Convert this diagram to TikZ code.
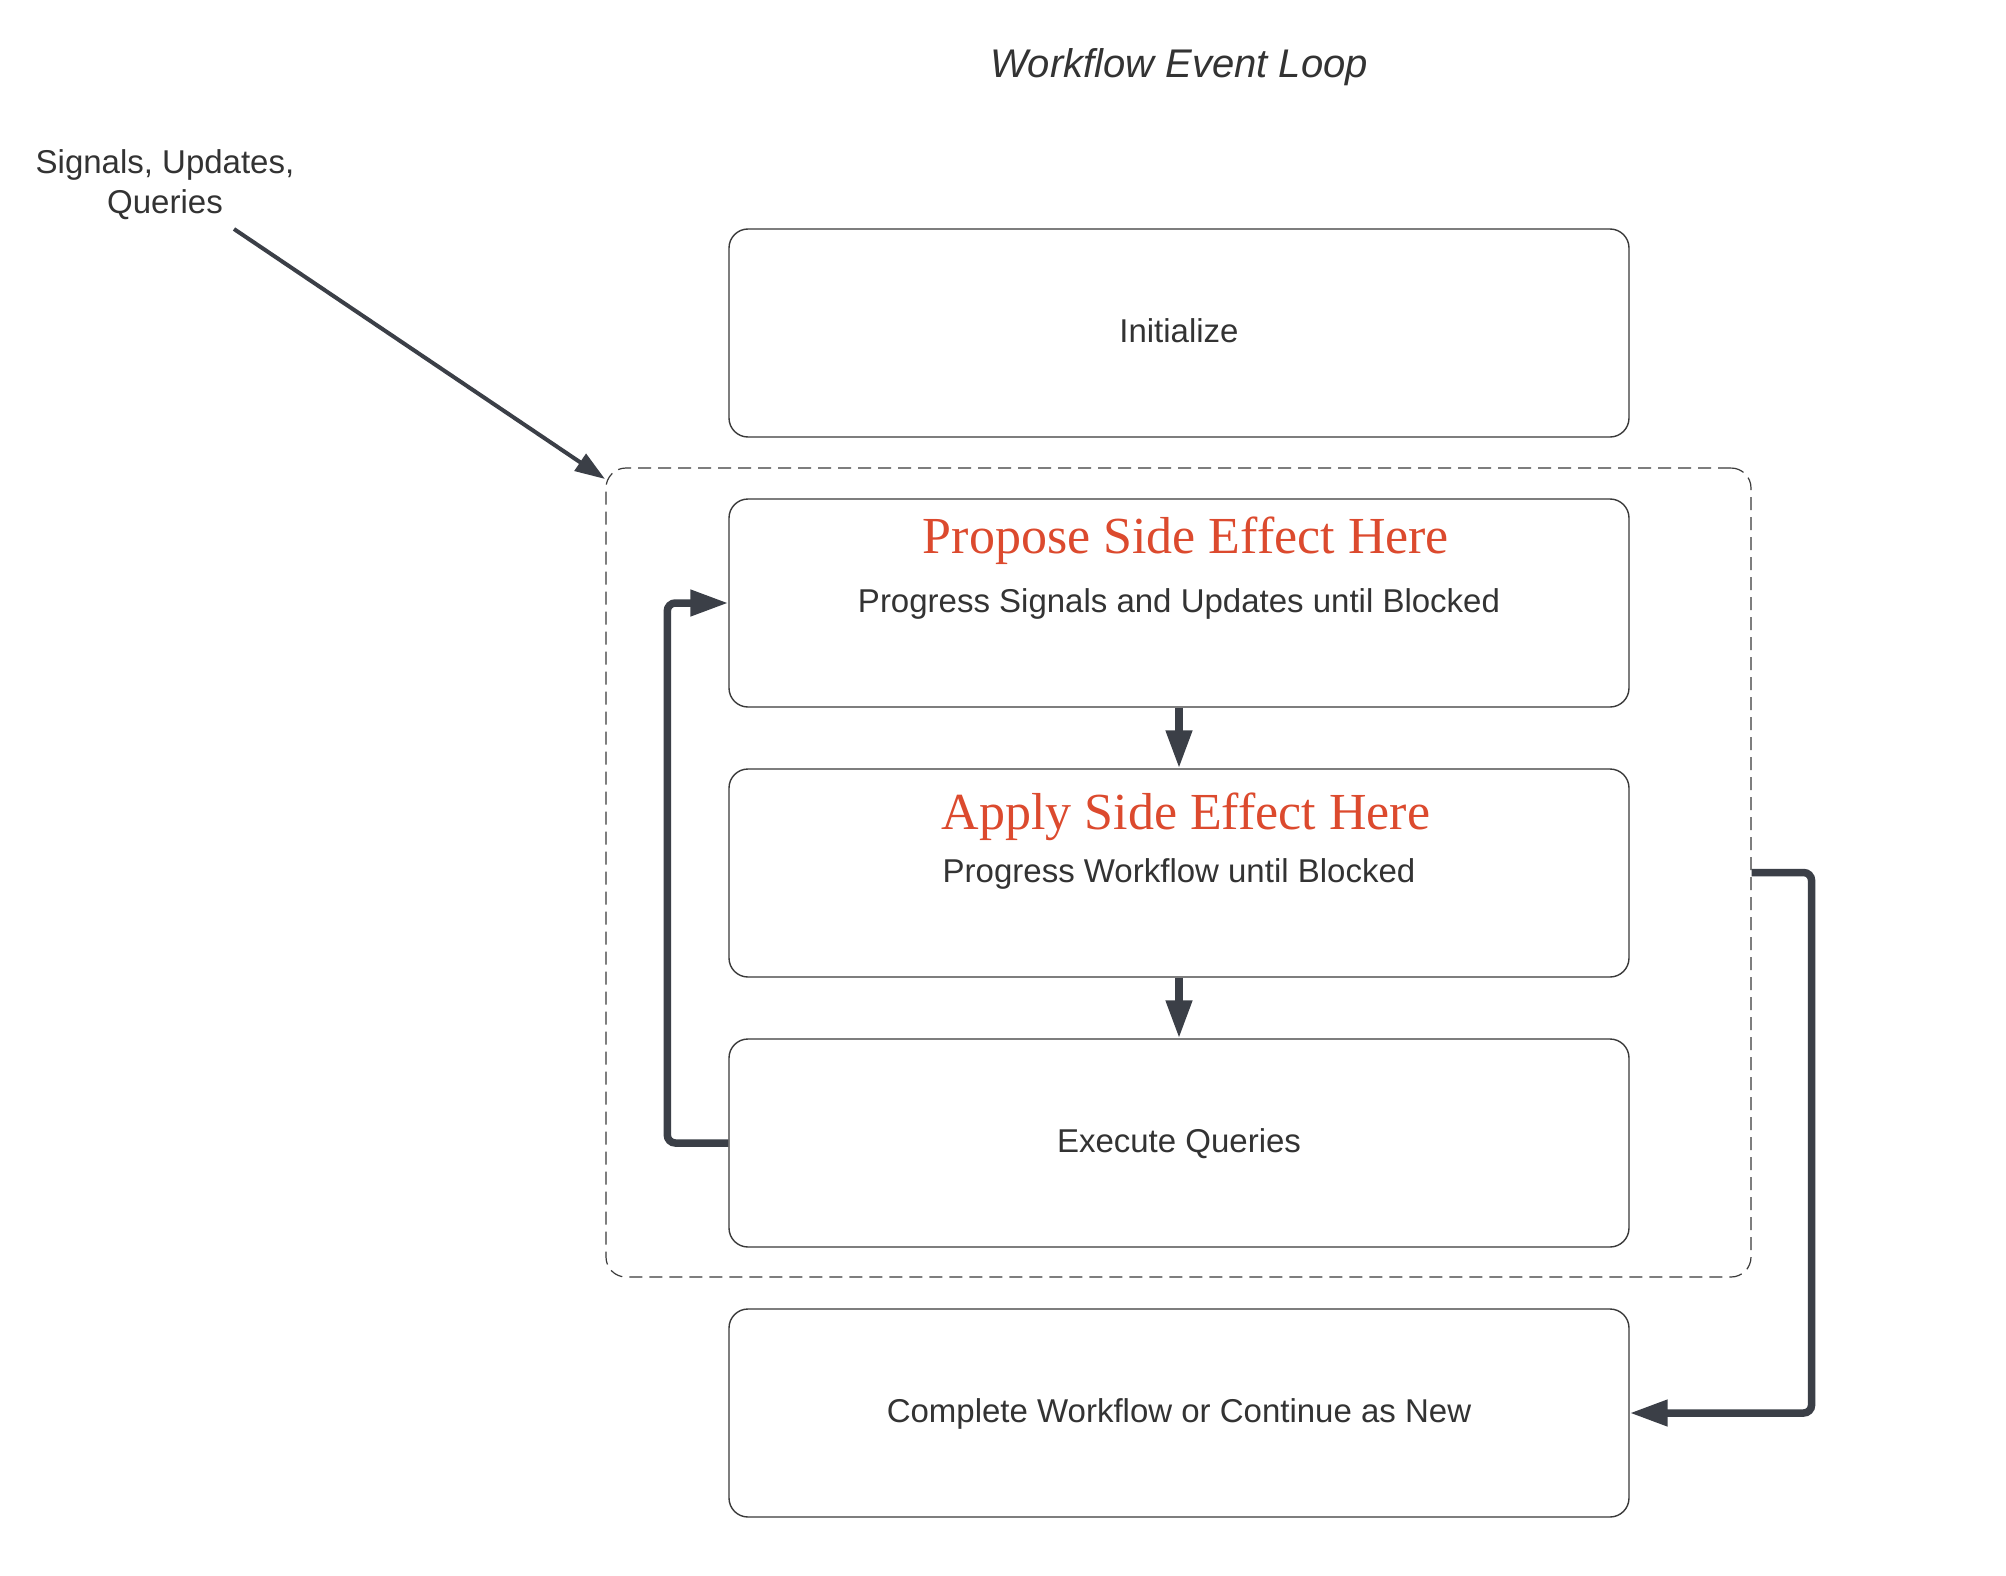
\documentclass[tikz,border=0pt]{standalone}
\usepackage{fontspec}
\setmainfont{Liberation Sans}
\newfontfamily\redserif{Liberation Serif}
\usetikzlibrary{arrows.meta}
\definecolor{txt}{HTML}{333333}
\definecolor{arr}{HTML}{3B3F47}
\definecolor{redt}{HTML}{DC4A2E}
\definecolor{edge}{HTML}{3A3A3A}
\tikzset{
  stepbox/.style={draw=edge, line width=1.4pt, rounded corners=19pt, minimum width=900pt, minimum height=208pt, inner sep=0pt},
  bodytxt/.style={text=txt, font=\fontsize{33}{40}\selectfont, align=center, inner sep=0pt},
  redtitle/.style={text=redt, font=\redserif\fontsize{52}{60}\selectfont, inner sep=0pt},
  thickarrow/.style={draw=arr, line width=7.5pt, rounded corners=8pt, -{Triangle[length=38pt,width=25pt]}},
  thinarrow/.style={draw=arr, line width=4pt, -{Triangle[length=30pt,width=20pt]}},
  loopbox/.style={draw=edge, line width=1.2pt, dash pattern=on 13pt off 7pt, rounded corners=20pt, minimum width=1145pt, minimum height=809pt, inner sep=0pt}
}
\begin{document}
\begin{tikzpicture}[x=1pt,y=-1pt]
\useasboundingbox[fill=white] (0,0) rectangle (2006,1576);
% title
\node[text=txt, font=\itshape\fontsize{40}{48}\selectfont, inner sep=0pt] (title) at (1179,67) {Workflow Event Loop};
% container
\node[loopbox] (loop) at (1178.5,872.5) {};
% boxes
\node[stepbox] (init) at (1179,333) {};
\node[stepbox] (prop) at (1179,603) {};
\node[stepbox] (apply) at (1179,873) {};
\node[stepbox] (exec) at (1179,1143) {};
\node[stepbox] (comp) at (1179,1413) {};
% texts
\node[bodytxt] (initt) at (1179,331) {Initialize};
\node[redtitle] (propr) at (1186,541) {Propose Side Effect Here};
\node[bodytxt] (propt) at (1179,604) {Progress Signals and Updates until Blocked};
\node[redtitle] (applyr) at (1186,817) {Apply Side Effect Here};
\node[bodytxt] (applyt) at (1179,874) {Progress Workflow until Blocked};
\node[bodytxt] (exect) at (1179,1144) {Execute Queries};
\node[bodytxt] (compt) at (1179,1414) {Complete Workflow or Continue as New};
% input label
\node[bodytxt] (sig) at (165,185) {Signals, Updates,\\Queries};
\coordinate (sigstart) at (234,229);
\coordinate (looptip) at (605,479);
% connectors
\draw[thinarrow] (sigstart) -- (looptip);
\draw[thickarrow] (prop.south) -- (apply.north);
\draw[thickarrow] (apply.south) -- (exec.north);
\draw[thickarrow] (exec.west) -- ++(-61,0) |- (prop.west);
\draw[thickarrow] (loop.east) -- ++(60,0) |- (comp.east);
\end{tikzpicture}
\end{document}
